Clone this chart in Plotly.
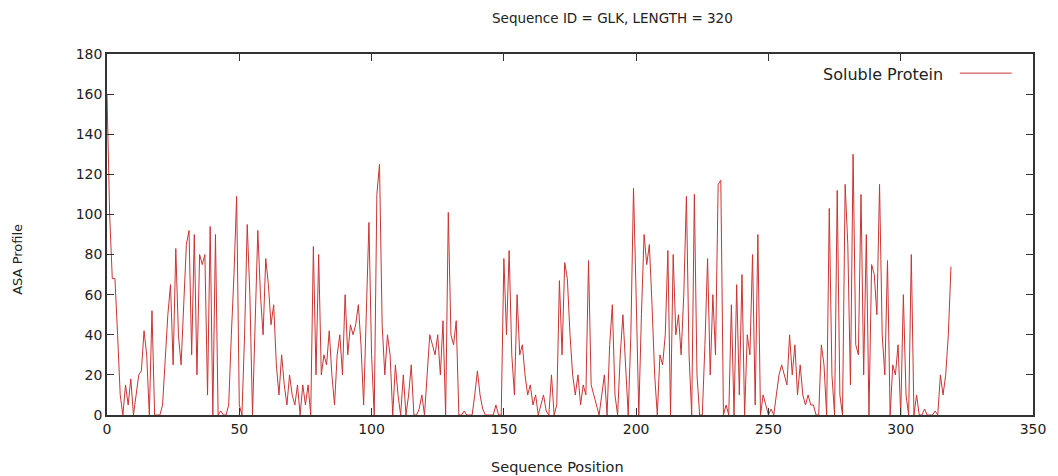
import plotly.graph_objects as go

asa = [
    160, 100, 68, 68, 40, 10, 0, 15, 5, 18,
    0, 10, 20, 22, 42, 30, 0, 52, 0, 0,
    0, 5, 30, 50, 65, 25, 83, 40, 25, 60,
    85, 92, 30, 90, 20, 80, 75, 80, 10, 94,
    0, 90, 0, 2, 0, 0, 5, 40, 70, 109,
    5, 0, 40, 95, 60, 0, 45, 92, 60, 40,
    78, 65, 45, 55, 25, 10, 30, 15, 5, 20,
    10, 5, 15, 0, 15, 5, 15, 0, 84, 20,
    80, 20, 30, 25, 42, 20, 5, 30, 40, 20,
    60, 30, 45, 40, 45, 55, 35, 5, 50, 96,
    30, 0, 110, 125, 45, 20, 40, 30, 0, 25,
    10, 0, 20, 0, 10, 25, 0, 0, 3, 10,
    0, 20, 40, 35, 30, 40, 20, 47, 0, 101,
    40, 35, 47, 0, 0, 2, 0, 0, 0, 10,
    22, 10, 3, 0, 0, 0, 0, 5, 0, 0,
    78, 40, 82, 30, 10, 60, 30, 35, 20, 10,
    15, 5, 10, 0, 5, 10, 2, 0, 20, 0,
    5, 67, 30, 76, 68, 40, 20, 10, 20, 5,
    15, 10, 77, 15, 10, 5, 0, 10, 20, 0,
    35, 55, 10, 0, 30, 50, 25, 0, 40, 113,
    60, 0, 50, 90, 75, 85, 55, 20, 0, 30,
    25, 40, 82, 0, 80, 40, 50, 30, 60, 109,
    30, 0, 110, 20, 0, 0, 35, 78, 20, 60,
    30, 115, 117, 0, 5, 0, 55, 0, 65, 10,
    70, 0, 40, 30, 80, 5, 90, 0, 10, 5,
    0, 3, 0, 10, 20, 25, 20, 15, 40, 20,
    35, 10, 25, 10, 5, 10, 5, 5, 0, 0,
    35, 25, 0, 103, 20, 0, 112, 10, 0, 115,
    85, 15, 130, 35, 30, 110, 20, 90, 0, 75,
    70, 50, 115, 40, 20, 77, 0, 25, 20, 35,
    0, 60, 10, 0, 80, 0, 10, 0, 0, 3,
    0, 0, 0, 2, 0, 20, 10, 20, 40, 74,
]
positions = list(range(len(asa)))

series_name = "Soluble Protein"
title_text = "Sequence ID = GLK, LENGTH = 320"
x_title = "Sequence Position"
y_title = "ASA Profile"
x_ticks = [0, 50, 100, 150, 200, 250, 300, 350]
y_ticks = [0, 20, 40, 60, 80, 100, 120, 140, 160, 180]

line_color = "#cc3333"
fam = "DejaVu Sans, Liberation Sans, sans-serif"
tick_font = dict(family=fam, size=14, color="#222222")
title_font = dict(family=fam, size=13.5, color="#222222")
xtitle_font = dict(family=fam, size=14.5, color="#222222")
ytitle_font = dict(family=fam, size=13, color="#222222")
legend_font = dict(family=fam, size=16, color="#222222")

fig = go.Figure()
fig.add_trace(go.Scatter(
    x=positions, y=asa, mode="lines", name=series_name,
    line=dict(color=line_color, width=1), showlegend=False,
))

axis_common = dict(
    showgrid=False, zeroline=False, showline=True, linecolor="#333333",
    linewidth=1.5, mirror="ticks", ticks="inside", ticklen=7,
    tickcolor="#333333", tickfont=tick_font,
)
fig.update_xaxes(range=[0, 350], tickvals=x_ticks, **axis_common)
fig.update_yaxes(range=[0, 180], tickvals=y_ticks, **axis_common)

# titles placed as annotations relative to the plot area
fig.add_annotation(xref="paper", yref="paper", x=0.546, y=1, yshift=36,
                   text=title_text, showarrow=False, xanchor="center",
                   yanchor="middle", font=title_font)
fig.add_annotation(xref="paper", yref="paper", x=0.487, y=0, yshift=-52,
                   text=x_title, showarrow=False, xanchor="center",
                   yanchor="middle", font=xtitle_font)
fig.add_annotation(xref="paper", yref="paper", x=0, y=0.43, xshift=-89,
                   text=y_title, showarrow=False, textangle=-90,
                   xanchor="center", yanchor="middle", font=ytitle_font)

# legend key drawn gnuplot-style (text then sample)
fig.add_annotation(xref="paper", yref="paper", x=0.905, y=0.944,
                   text=series_name, showarrow=False, xanchor="right",
                   yanchor="middle", font=legend_font)
fig.add_shape(type="line", xref="paper", yref="paper",
              x0=0.921, x1=0.977, y0=0.947, y1=0.947,
              line=dict(color=line_color, width=1))

fig.update_layout(
    width=1050, height=468,
    margin=dict(l=99, r=25, t=46, b=61),
    paper_bgcolor="white", plot_bgcolor="white",
    font=tick_font,
)

fig.write_html("out.html")
